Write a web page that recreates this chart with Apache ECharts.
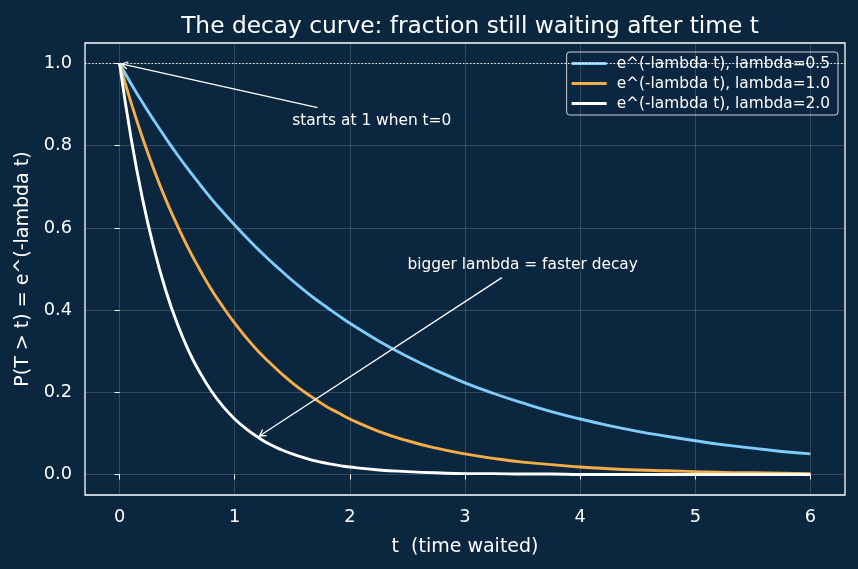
<!DOCTYPE html>
<html><head><meta charset="utf-8">
<script src="https://cdn.jsdelivr.net/npm/echarts@6/dist/echarts.min.js"></script>
<style>html,body{margin:0;padding:0;background:#0b2740;}#c{width:858px;height:569px;}</style>
</head><body><div id="c"></div>
<script>
const tValues = [0,0.1,0.2,0.3,0.4,0.5,0.6,0.7,0.8,0.9,1.0,1.1,1.2,1.3,1.4,1.5,1.6,1.7,1.8,1.9,2.0,2.25,2.5,2.75,3.0,3.25,3.5,3.75,4.0,4.25,4.5,4.75,5.0,5.25,5.5,5.75,6.0];
const seriesNames = ['e^(-lambda t), lambda=0.5','e^(-lambda t), lambda=1.0','e^(-lambda t), lambda=2.0'];
const lambda05 = [1.000,0.951,0.905,0.861,0.819,0.779,0.741,0.705,0.670,0.638,0.607,0.577,0.549,0.522,0.497,0.472,0.449,0.427,0.407,0.387,0.368,0.325,0.287,0.253,0.223,0.197,0.174,0.153,0.135,0.119,0.105,0.093,0.082,0.072,0.064,0.056,0.050];
const lambda10 = [1.000,0.905,0.819,0.741,0.670,0.607,0.549,0.497,0.449,0.407,0.368,0.333,0.301,0.273,0.247,0.223,0.202,0.183,0.165,0.150,0.135,0.105,0.082,0.064,0.050,0.039,0.030,0.024,0.018,0.014,0.011,0.009,0.007,0.005,0.004,0.003,0.002];
const lambda20 = [1.000,0.819,0.670,0.549,0.449,0.368,0.301,0.247,0.202,0.165,0.135,0.111,0.091,0.074,0.061,0.050,0.041,0.033,0.027,0.022,0.018,0.011,0.007,0.004,0.002,0.002,0.001,0.001,0.000,0.000,0.000,0.000,0.000,0.000,0.000,0.000,0.000];
const xTicks = [0,1,2,3,4,5,6];
const yTicks = [0,0.2,0.4,0.6,0.8,1.0];
const annotTexts = ['starts at 1 when t=0','bigger lambda = faster decay'];
const annotTextPos = [[1.5,0.85],[2.5,0.5]];
const annotArrowFrom = [[1.72,0.893],[3.32,0.479]];
const annotArrowTo = [[0,1],[1.2,0.091]];
const refLineY = 1.0;

const colors = ['#7fccfa','#f5ae47','#ffffff'];
const FONT = 'DejaVu Sans';
const chart = echarts.init(document.getElementById('c'));

function mk(vals){ return tValues.map((t,i)=>[t, vals[i]]); }

const gridLines = [];
xTicks.forEach(v=>gridLines.push({xAxis:v}));
yTicks.forEach(v=>gridLines.push({yAxis:v}));

const annotData = annotTexts.map((s,i)=>[annotTextPos[i][0],annotTextPos[i][1],annotArrowFrom[i][0],annotArrowFrom[i][1],annotArrowTo[i][0],annotArrowTo[i][1],i]);

const lineCommon = {type:'line',showSymbol:false,symbol:'none',smooth:0.5};

chart.setOption({
  backgroundColor:'#0b2740',
  animation:false,
  textStyle:{fontFamily:FONT},
  title:{text:'The decay curve: fraction still waiting after time t',left:465,textAlign:'center',top:10,
    textStyle:{color:'#ffffff',fontSize:23.3,fontWeight:'normal',fontFamily:FONT}},
  grid:{left:85,right:13,top:43,bottom:74,show:true,borderColor:'#ffffff',borderWidth:1.3,backgroundColor:'transparent'},
  legend:{orient:'vertical',right:20,top:52,data:seriesNames,icon:'rect',itemWidth:35,itemHeight:3,itemGap:5,
    padding:[4,8,4,5],borderColor:'rgba(255,255,255,0.8)',borderWidth:1,borderRadius:3,backgroundColor:'rgba(11,39,64,0.8)',
    textStyle:{color:'#ffffff',fontSize:15.4,fontFamily:FONT,padding:[0,0,0,5]}},
  xAxis:{type:'value',min:-0.3,max:6.3,
    name:'t  (time waited)',nameLocation:'middle',nameGap:43,nameTextStyle:{color:'#ffffff',fontSize:19,fontFamily:FONT},
    axisLine:{show:false},splitLine:{show:false},
    axisTick:{show:true,customValues:xTicks,length:5,lineStyle:{color:'#ffffff',width:1}},
    axisLabel:{customValues:xTicks,color:'#ffffff',fontSize:17.8,fontFamily:FONT,margin:13,formatter:v=>String(Math.round(v))}},
  yAxis:{type:'value',min:-0.05,max:1.05,
    name:'P(T > t) = e^(-lambda t)',nameLocation:'middle',nameGap:52,nameTextStyle:{color:'#ffffff',fontSize:19,fontFamily:FONT},
    axisLine:{show:false},splitLine:{show:false},
    axisTick:{show:true,customValues:yTicks,length:5,lineStyle:{color:'#ffffff',width:1}},
    axisLabel:{customValues:yTicks,color:'#ffffff',fontSize:17.8,fontFamily:FONT,margin:13,formatter:v=>v.toFixed(1)}},
  series:[
    {type:'line',name:'_grid',data:[],silent:true,
      markLine:{silent:true,symbol:'none',label:{show:false},animation:false,
        lineStyle:{color:'rgba(255,255,255,0.2)',width:0.8,type:'solid'},data:gridLines}},
    {type:'line',name:'_ref',data:[],silent:true,z:3,
      markLine:{silent:true,symbol:'none',label:{show:false},animation:false,
        lineStyle:{color:'#ffffff',width:1,type:[1.5,2],opacity:0.9},data:[{yAxis:refLineY}]}},
    Object.assign({},lineCommon,{name:seriesNames[0],data:mk(lambda05),z:4,
      lineStyle:{color:colors[0],width:2.9},itemStyle:{color:colors[0]}}),
    Object.assign({},lineCommon,{name:seriesNames[1],data:mk(lambda10),z:5,
      lineStyle:{color:colors[1],width:2.9},itemStyle:{color:colors[1]}}),
    Object.assign({},lineCommon,{name:seriesNames[2],data:mk(lambda20),z:6,
      lineStyle:{color:colors[2],width:2.9},itemStyle:{color:colors[2]}}),
    {type:'custom',name:'_annot',data:annotData,z:10,silent:true,clip:false,
      encode:{x:[0,2,4],y:[1,3,5]},
      renderItem:function(params,api){
        const tp=api.coord([api.value(0),api.value(1)]);
        const a=api.coord([api.value(2),api.value(3)]);
        const b=api.coord([api.value(4),api.value(5)]);
        const idx=api.value(6);
        const ang=Math.atan2(b[1]-a[1],b[0]-a[0]);
        const L=9, w=0.42;
        const h1=[b[0]-L*Math.cos(ang-w),b[1]-L*Math.sin(ang-w)];
        const h2=[b[0]-L*Math.cos(ang+w),b[1]-L*Math.sin(ang+w)];
        const bb=[b[0]-2*Math.cos(ang),b[1]-2*Math.sin(ang)];
        return {type:'group',children:[
          {type:'line',shape:{x1:a[0],y1:a[1],x2:bb[0],y2:bb[1]},style:{stroke:'#ffffff',lineWidth:1.3}},
          {type:'polyline',shape:{points:[h1,bb,h2]},style:{stroke:'#ffffff',lineWidth:1.3,fill:null}},
          {type:'text',x:tp[0],y:tp[1]+3,style:{text:annotTexts[idx],fill:'#ffffff',fontSize:15.4,fontFamily:FONT,textAlign:'left',textVerticalAlign:'bottom'}}
        ]};
      }}
  ]
});
</script></body></html>
